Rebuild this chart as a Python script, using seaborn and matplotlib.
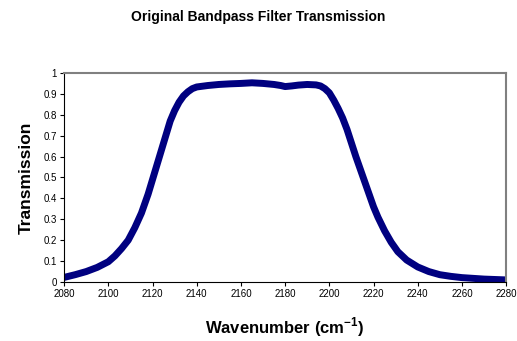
import matplotlib
matplotlib.use('Agg')
import matplotlib.pyplot as plt
import seaborn as sns
import pandas as pd

wavenumber = [2080, 2085, 2090, 2095, 2100, 2103, 2106, 2109, 2112, 2115, 2118, 2120,
              2122, 2124, 2126, 2128, 2130, 2132, 2134, 2136, 2138, 2140, 2145, 2150,
              2155, 2160, 2165, 2170, 2175, 2178, 2180, 2183, 2186, 2190, 2194, 2196,
              2198, 2200, 2202, 2204, 2206, 2208, 2210, 2212, 2214, 2216, 2218, 2220,
              2222, 2225, 2228, 2231, 2235, 2240, 2245, 2250, 2255, 2260, 2270, 2280]
transmission = [0.022, 0.035, 0.05, 0.07, 0.097, 0.125, 0.16, 0.20, 0.26, 0.33, 0.42, 0.49,
                0.56, 0.63, 0.70, 0.77, 0.82, 0.86, 0.89, 0.91, 0.925, 0.933, 0.94, 0.945,
                0.948, 0.95, 0.953, 0.95, 0.945, 0.94, 0.935, 0.938, 0.942, 0.945, 0.943, 0.938,
                0.925, 0.905, 0.87, 0.83, 0.785, 0.73, 0.665, 0.60, 0.54, 0.48, 0.42, 0.36,
                0.31, 0.245, 0.19, 0.145, 0.105, 0.072, 0.05, 0.035, 0.027, 0.021, 0.014, 0.01]

df = pd.DataFrame({'Wavenumber': wavenumber, 'Transmission': transmission})

sns.set_style('white')
plt.rcParams['font.family'] = ['Liberation Sans', 'DejaVu Sans']
plt.rcParams['text.color'] = 'black'
plt.rcParams['axes.labelcolor'] = 'black'
plt.rcParams['xtick.color'] = 'black'
plt.rcParams['ytick.color'] = 'black'

fig = plt.figure(figsize=(5.17, 3.41), dpi=100)
ax = fig.add_axes([0.124, 0.173, 0.855, 0.613])

sns.lineplot(data=df, x='Wavenumber', y='Transmission', ax=ax, color='#000080',
             linewidth=5, solid_capstyle='round', solid_joinstyle='round')

ax.set_xlim(2080, 2280)
ax.set_ylim(0, 1)
ax.set_xticks(range(2080, 2281, 20))
yt = [i / 10 for i in range(11)]
ax.set_yticks(yt)
ax.set_yticklabels(['0'] + [f'{v:.1f}' for v in yt[1:-1]] + ['1'])
ax.tick_params(axis='both', labelsize=7, direction='out', length=3, width=0.8,
               bottom=True, left=True, pad=2)

for s in ['top', 'right']:
    ax.spines[s].set_color('#808080')
    ax.spines[s].set_linewidth(1.5)
for s in ['left', 'bottom']:
    ax.spines[s].set_color('black')
    ax.spines[s].set_linewidth(0.8)

ax.set_xlabel('Wavenumber (cm$^{\\mathregular{-1}}$)', fontsize=12, fontweight='bold', labelpad=12)
ax.set_ylabel('Transmission', fontsize=12.5, fontweight='bold', labelpad=7)
fig.text(0.5, 0.95, 'Original Bandpass Filter Transmission', ha='center', va='center',
         fontsize=10, fontweight='bold')

fig.savefig('out.png', dpi=100)
